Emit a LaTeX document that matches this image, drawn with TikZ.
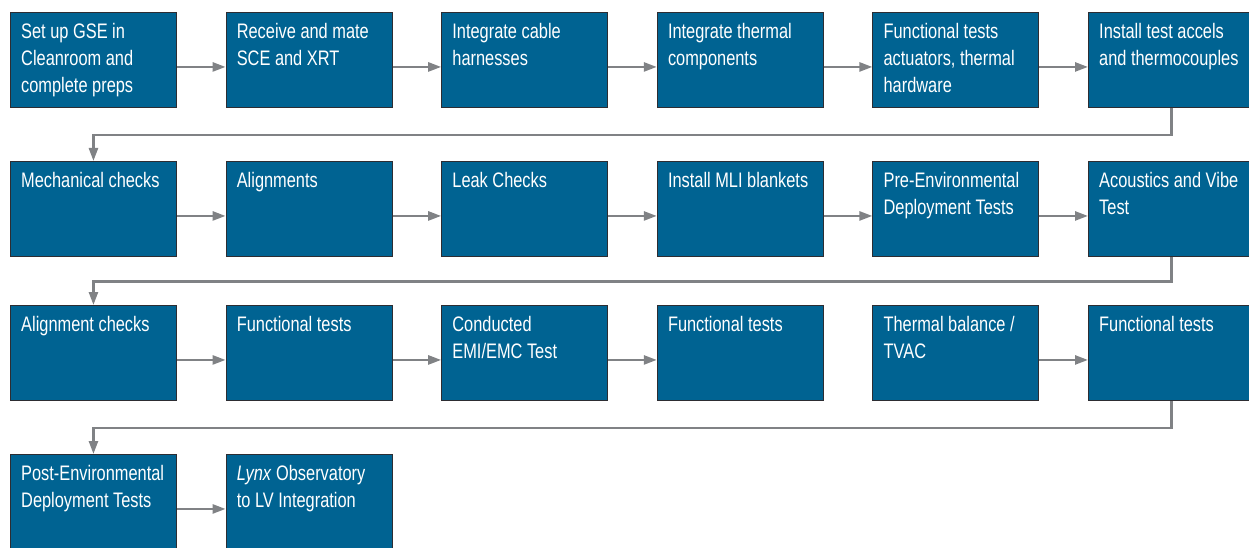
\documentclass[tikz,border=0pt]{standalone}
\usepackage{fontspec}
\setmainfont{Liberation Sans}[FakeStretch=0.78]
\usetikzlibrary{
	positioning,
	arrows.meta
}
\definecolor{stepblue}{RGB}{0,99,146}
\definecolor{stepedge}{RGB}{45,45,50}
\definecolor{flowgray}{RGB}{128,130,133}

\begin{document}
\begin{tikzpicture}[
			x=1pt,y=1pt,
			node distance=48.7pt,
			stepbox/.style={
				draw=stepedge,
				line width=0.9pt,
				fill=stepblue,
				minimum width=166pt,
				minimum height=95pt,
				inner sep=0pt
			},
			steptext/.style={
				anchor=north west,
				inner sep=0pt,
				align=left,
				text=white,
				font=\fontsize{21}{27}\selectfont
			},
			arrow/.style={
				-{Triangle[length=13pt,width=9pt]},
				draw=flowgray,
				line width=2.5pt
			}
			]
			
			\useasboundingbox (0,0) rectangle (1249,-548);
			
			% row 1
			\node[stepbox,anchor=north west] (a1) at (10,-12) {};
			\node[stepbox,right=of a1] (a2) {};
			\node[stepbox,right=of a2] (a3) {};
			\node[stepbox,right=of a3] (a4) {};
			\node[stepbox,right=of a4] (a5) {};
			\node[stepbox,right=of a5] (a6) {};
			
			% row 2
			\node[stepbox,below=53.1pt of a1] (b1) {};
			\node[stepbox,right=of b1] (b2) {};
			\node[stepbox,right=of b2] (b3) {};
			\node[stepbox,right=of b3] (b4) {};
			\node[stepbox,right=of b4] (b5) {};
			\node[stepbox,right=of b5] (b6) {};
			
			% row 3
			\node[stepbox,below=48.1pt of b1] (c1) {};
			\node[stepbox,right=of c1] (c2) {};
			\node[stepbox,right=of c2] (c3) {};
			\node[stepbox,right=of c3] (c4) {};
			\node[stepbox,right=of c4] (c5) {};
			\node[stepbox,right=of c5] (c6) {};
			
			% row 4
			\node[stepbox,below=53.1pt of c1] (d1) {};
			\node[stepbox,right=of d1] (d2) {};
			
			% texts
			\node[steptext] (a1t) at ([xshift=11pt,yshift=-11.5pt]a1.north west)
			{Set up GSE in\\Cleanroom and\\complete preps};
			\node[steptext] (a2t) at ([xshift=11pt,yshift=-11.5pt]a2.north west)
			{Receive and mate\\SCE and XRT};
			\node[steptext] (a3t) at ([xshift=11pt,yshift=-11.5pt]a3.north west)
			{Integrate cable\\harnesses};
			\node[steptext] (a4t) at ([xshift=11pt,yshift=-11.5pt]a4.north west)
			{Integrate thermal\\components};
			\node[steptext] (a5t) at ([xshift=11pt,yshift=-11.5pt]a5.north west)
			{Functional tests\\actuators, thermal\\hardware};
			\node[steptext] (a6t) at ([xshift=11pt,yshift=-11.5pt]a6.north west)
			{Install test accels\\and thermocouples};
			
			\node[steptext] (b1t) at ([xshift=11pt,yshift=-11.5pt]b1.north west)
			{Mechanical checks};
			\node[steptext] (b2t) at ([xshift=11pt,yshift=-11.5pt]b2.north west)
			{Alignments};
			\node[steptext] (b3t) at ([xshift=11pt,yshift=-11.5pt]b3.north west)
			{Leak Checks};
			\node[steptext] (b4t) at ([xshift=11pt,yshift=-11.5pt]b4.north west)
			{Install MLI blankets};
			\node[steptext] (b5t) at ([xshift=11pt,yshift=-11.5pt]b5.north west)
			{Pre-Environmental\\Deployment Tests};
			\node[steptext] (b6t) at ([xshift=11pt,yshift=-11.5pt]b6.north west)
			{Acoustics and Vibe\\Test};
			
			\node[steptext] (c1t) at ([xshift=11pt,yshift=-11.5pt]c1.north west)
			{Alignment checks};
			\node[steptext] (c2t) at ([xshift=11pt,yshift=-11.5pt]c2.north west)
			{Functional tests};
			\node[steptext] (c3t) at ([xshift=11pt,yshift=-11.5pt]c3.north west)
			{Conducted\\EMI/EMC Test};
			\node[steptext] (c4t) at ([xshift=11pt,yshift=-11.5pt]c4.north west)
			{Functional tests};
			\node[steptext] (c5t) at ([xshift=11pt,yshift=-11.5pt]c5.north west)
			{Thermal balance /\\TVAC};
			\node[steptext] (c6t) at ([xshift=11pt,yshift=-11.5pt]c6.north west)
			{Functional tests};
			
			\node[steptext] (d1t) at ([xshift=11pt,yshift=-11.5pt]d1.north west)
			{Post-Environmental\\Deployment Tests};
			\node[steptext] (d2t) at ([xshift=11pt,yshift=-11.5pt]d2.north west)
			{\textit{Lynx} Observatory\\to LV Integration};
			
			% arrows
			\draw[arrow] ([yshift=-7pt]a1.east)--([yshift=-7pt]a2.west);
			\draw[arrow] ([yshift=-7pt]a2.east)--([yshift=-7pt]a3.west);
			\draw[arrow] ([yshift=-7pt]a3.east)--([yshift=-7pt]a4.west);
			\draw[arrow] ([yshift=-7pt]a4.east)--([yshift=-7pt]a5.west);
			\draw[arrow] ([yshift=-7pt]a5.east)--([yshift=-7pt]a6.west);
			\draw[arrow] (a6.south)--++(0,-27)-|(b1.north);
			
			\draw[arrow] ([yshift=-7pt]b1.east)--([yshift=-7pt]b2.west);
			\draw[arrow] ([yshift=-7pt]b2.east)--([yshift=-7pt]b3.west);
			\draw[arrow] ([yshift=-7pt]b3.east)--([yshift=-7pt]b4.west);
			\draw[arrow] ([yshift=-7pt]b4.east)--([yshift=-7pt]b5.west);
			\draw[arrow] ([yshift=-7pt]b5.east)--([yshift=-7pt]b6.west);
			\draw[arrow] (b6.south)--++(0,-24.5)-|(c1.north);
			
			\draw[arrow] ([yshift=-7pt]c1.east)--([yshift=-7pt]c2.west);
			\draw[arrow] ([yshift=-7pt]c2.east)--([yshift=-7pt]c3.west);
			\draw[arrow] ([yshift=-7pt]c3.east)--([yshift=-7pt]c4.west);
			\draw[arrow] ([yshift=-7pt]c5.east)--([yshift=-7pt]c6.west);
			\draw[arrow] (c6.south)--++(0,-27)-|(d1.north);
			
			\draw[arrow] ([yshift=-7pt]d1.east)--([yshift=-7pt]d2.west);
			
		\end{tikzpicture}
\end{document}
